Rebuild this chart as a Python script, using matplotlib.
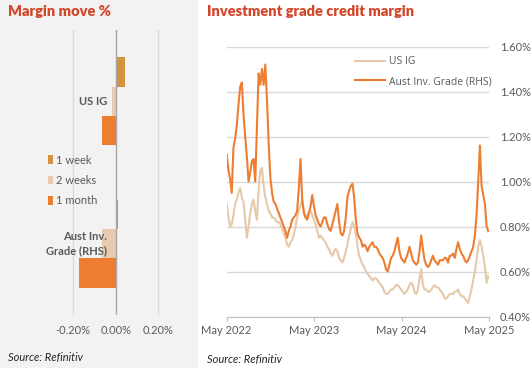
import matplotlib
matplotlib.use("Agg")
import matplotlib.pyplot as plt
import matplotlib.dates as mdates
from matplotlib.patches import Rectangle, Patch
import pandas as pd

plt.rcParams['font.family'] = ['Lato', 'DejaVu Sans']

# ---- left panel: margin move (percentage points)
categories = ["US IG", "Aust Inv.\nGrade (RHS)"]
periods = ["1 week", "2 weeks", "1 month"]
move_1w = [0.041, 0.011]
move_2w = [-0.019, -0.066]
move_1m = [-0.066, -0.174]
bar_colors = ["#D4913E", "#E6CBB0", "#ED7D31"]

# ---- right panel: weekly credit margins (%)
start_date = "2022-05-02"
aust_ig = [
    1.12, 1.05, 1.01, 0.95, 1.15, 1.19, 1.25, 1.34, 1.42, 1.44,
    1.30, 1.20, 1.11, 1.00, 1.04, 1.09, 1.10, 1.00, 1.24, 1.48,
    1.43, 1.50, 1.43, 1.52, 1.36, 1.17, 1.02, 0.95, 0.91, 0.90,
    0.88, 0.86, 0.84, 0.82, 0.80, 0.78, 0.75, 0.78, 0.80, 0.83,
    0.84, 0.85, 0.87, 0.97, 1.10, 0.92, 0.86, 0.84, 0.83, 0.86,
    0.89, 0.94, 0.89, 0.85, 0.83, 0.81, 0.80, 0.82, 0.84, 0.84,
    0.81, 0.79, 0.78, 0.81, 0.84, 0.87, 0.90, 0.82, 0.77, 0.76,
    0.78, 0.84, 0.93, 0.96, 0.98, 0.99, 0.93, 0.83, 0.77, 0.75,
    0.74, 0.71, 0.72, 0.71, 0.69, 0.71, 0.72, 0.73, 0.71, 0.71,
    0.70, 0.68, 0.67, 0.66, 0.64, 0.61, 0.60, 0.63, 0.66, 0.67,
    0.69, 0.72, 0.75, 0.69, 0.66, 0.65, 0.64, 0.66, 0.68, 0.71,
    0.68, 0.65, 0.64, 0.63, 0.64, 0.69, 0.76, 0.70, 0.65, 0.63,
    0.62, 0.63, 0.65, 0.67, 0.65, 0.64, 0.63, 0.65, 0.65, 0.65,
    0.66, 0.66, 0.64, 0.67, 0.67, 0.68, 0.66, 0.70, 0.73, 0.70,
    0.68, 0.67, 0.65, 0.64, 0.65, 0.67, 0.69, 0.71, 0.76, 0.85,
    1.00, 1.16, 0.98, 0.94, 0.90, 0.80, 0.78,
]
us_ig = [
    0.90, 0.84, 0.80, 0.81, 0.85, 0.90, 0.92, 0.95, 0.97, 0.93,
    0.91, 0.83, 0.75, 0.80, 0.86, 0.90, 0.92, 0.87, 0.83, 0.96,
    1.05, 1.06, 0.98, 0.93, 0.90, 0.87, 0.86, 0.84, 0.84, 0.83,
    0.82, 0.82, 0.81, 0.79, 0.77, 0.75, 0.72, 0.71, 0.73, 0.74,
    0.76, 0.80, 0.84, 0.87, 0.89, 0.92, 0.87, 0.84, 0.85, 0.86,
    0.87, 0.85, 0.83, 0.81, 0.78, 0.75, 0.76, 0.75, 0.74, 0.73,
    0.71, 0.70, 0.68, 0.67, 0.69, 0.70, 0.69, 0.66, 0.65, 0.64,
    0.66, 0.69, 0.72, 0.76, 0.79, 0.82, 0.80, 0.77, 0.71, 0.67,
    0.65, 0.63, 0.62, 0.60, 0.59, 0.58, 0.57, 0.56, 0.57, 0.57,
    0.56, 0.55, 0.54, 0.53, 0.51, 0.50, 0.50, 0.51, 0.52, 0.52,
    0.53, 0.54, 0.54, 0.53, 0.52, 0.51, 0.50, 0.51, 0.52, 0.54,
    0.55, 0.54, 0.51, 0.50, 0.52, 0.57, 0.61, 0.54, 0.52, 0.52,
    0.51, 0.51, 0.52, 0.53, 0.54, 0.53, 0.53, 0.52, 0.51, 0.50,
    0.48, 0.48, 0.49, 0.50, 0.50, 0.50, 0.51, 0.51, 0.52, 0.50,
    0.49, 0.49, 0.48, 0.47, 0.46, 0.49, 0.52, 0.56, 0.60, 0.65,
    0.71, 0.74, 0.71, 0.67, 0.62, 0.55, 0.58,
]
dates = pd.date_range(start_date, periods=len(aust_ig), freq="7D")
year_ticks = pd.to_datetime(["2022-05-01", "2023-05-01", "2024-05-01", "2025-05-01"])

TITLE_RED = "#D2472A"
GREY_TXT = "#595959"
GRID = "#D9D9D9"

W, H = 532, 368
fig = plt.figure(figsize=(W / 100, H / 100), dpi=100)
fig.patch.set_facecolor("white")
fig.patches.append(Rectangle((0, 0), 198 / W, 1, transform=fig.transFigure,
                             facecolor="#F2F2F2", edgecolor="none", zorder=-10))


def px_axes(l, t, r, b):
    return fig.add_axes([l / W, 1 - b / H, (r - l) / W, (b - t) / H])


# ================= left panel
ax1 = px_axes(52, 30, 169, 315)
ax1.set_facecolor("none")
bh = 0.207
ypos = [0, 1]
for off, vals, col in zip([-bh, 0, bh], [move_1w, move_2w, move_1m], bar_colors):
    ax1.barh([y + off for y in ypos], vals, height=bh, color=col, zorder=3)
ax1.set_xlim(-0.3, 0.25)
ax1.set_ylim(1.5, -0.5)
ax1.set_xticks([-0.2, 0.0, 0.2])
ax1.set_xticklabels(["-0.20%", "0.00%", "0.20%"])
ax1.set_yticks([])
for v in [-0.2, 0.2]:
    ax1.axvline(v, color=GRID, lw=1, zorder=1)
ax1.axvline(0, color="#A6A6A6", lw=1, zorder=4)
for s in ax1.spines.values():
    s.set_visible(False)
ax1.tick_params(axis="x", length=0, labelsize=8, labelcolor=GREY_TXT, pad=7)
for y, lab in zip(ypos, categories):
    ax1.text(-0.04, y, lab, ha="right", va="center", fontsize=8,
             fontweight="bold", color=GREY_TXT, zorder=5, linespacing=1.3)

handles = [Patch(facecolor=c, edgecolor="none") for c in bar_colors]
fig.legend(handles, periods, loc="upper left", bbox_to_anchor=(42 / W, 1 - 149 / H),
           frameon=False, fontsize=8, handlelength=0.5, handleheight=0.8,
           handletextpad=0.3, labelspacing=0.85, labelcolor=GREY_TXT,
           borderpad=0)

fig.text(8 / W, 1 - 12 / H, "Margin move %", fontsize=10.5, fontweight="heavy",
         color=TITLE_RED, va="center", ha="left")
fig.text(8 / W, 1 - 358 / H, "Source: Refinitiv", fontsize=8, style="italic",
         color="#262626", va="center", ha="left")

# ================= right panel
ax2 = px_axes(226.5, 46.5, 489, 316.5)
ax2.set_facecolor("none")
ax2.plot(dates, us_ig, color="#E6C9A8", lw=1.5, label="US IG", zorder=3)
ax2.plot(dates, aust_ig, color="#ED7D31", lw=1.5, label="Aust Inv. Grade (RHS)", zorder=4)
ax2.set_ylim(0.4, 1.6)
ax2.set_xlim(year_ticks[0], year_ticks[-1])
ax2.set_yticks([0.4, 0.6, 0.8, 1.0, 1.2, 1.4, 1.6])
ax2.set_yticklabels([f"{v:.2f}%" for v in [0.4, 0.6, 0.8, 1.0, 1.2, 1.4, 1.6]])
ax2.yaxis.tick_right()
ax2.grid(axis="y", color=GRID, lw=1, zorder=0)
ax2.set_xticks(year_ticks)
ax2.xaxis.set_major_formatter(mdates.DateFormatter("%b %Y"))
for s in ["top", "left", "right"]:
    ax2.spines[s].set_visible(False)
ax2.spines["bottom"].set_color("#BFBFBF")
ax2.tick_params(axis="y", length=0, labelsize=8, labelcolor=GREY_TXT, pad=8)
ax2.tick_params(axis="x", length=3, color="#BFBFBF", labelsize=8,
                labelcolor=GREY_TXT, pad=3)
leg = ax2.legend(loc="upper left", frameon=False, handlelength=2.9,
                 handletextpad=0.3, labelspacing=0.85, labelcolor=GREY_TXT,
                 borderpad=0, prop={"family": "Open Sans", "size": 7.5},
                 bbox_to_anchor=((350 - 226.5) / (489 - 226.5), 1 - (51 - 46.5) / 270))

fig.text(207 / W, 1 - 12 / H, "Investment grade credit margin", fontsize=10.5,
         fontweight="heavy", color=TITLE_RED, va="center", ha="left")
fig.text(207 / W, 1 - 360 / H, "Source: Refinitiv", fontsize=8, style="italic",
         color="#262626", va="center", ha="left")

fig.savefig("out.png", dpi=100)
